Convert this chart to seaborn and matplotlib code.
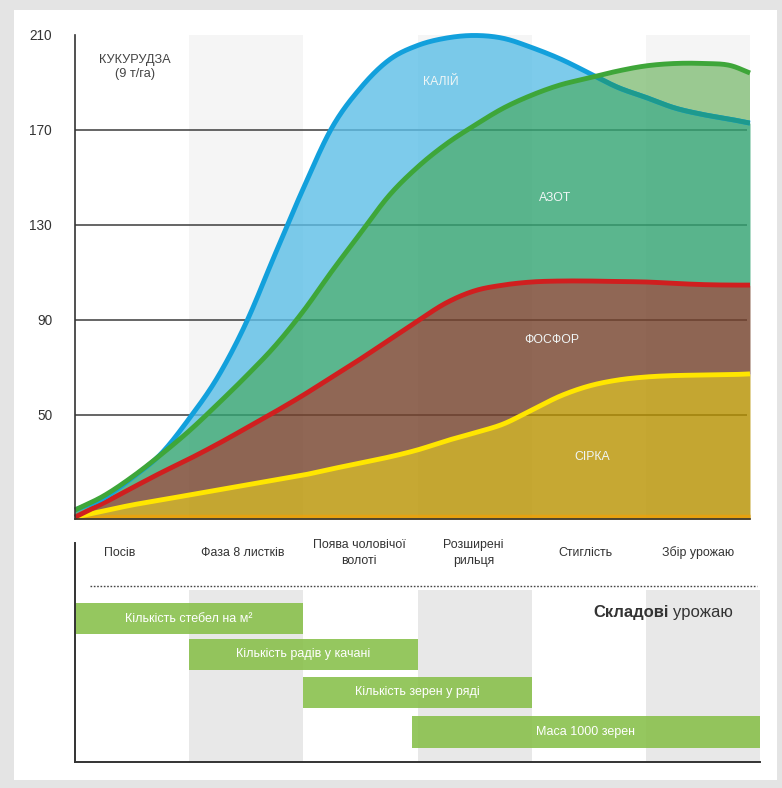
import numpy as np
import pandas as pd
import matplotlib
matplotlib.use("Agg")
import matplotlib.pyplot as plt
from matplotlib.patches import Rectangle
import seaborn as sns

# ---- data -------------------------------------------------------------
# growth-stage position (one unit = one stage column)
stage_pos = [0.0, 0.25, 0.5, 0.75, 1.0, 1.25, 1.5, 1.75, 2.0, 2.25, 2.5, 2.75,
             3.0, 3.25, 3.5, 3.75, 4.0, 4.25, 4.5, 4.75, 5.0, 5.25, 5.5, 5.75, 5.91]
# nutrient uptake, kg/ha
potassium = [10, 15, 23.5, 33.5, 48.5, 66, 89, 117.5, 145.5, 171, 187.7, 199.5,
             205.6, 208.7, 209.8, 208.6, 204.7, 199.9, 194, 188, 183.7, 179.3, 176.5, 174.4, 172.9]
nitrogen = [10, 15.9, 23.9, 33.2, 43.3, 54.6, 66.4, 79, 93.8, 110.6, 126.6, 142.4,
            154.4, 164.1, 172, 179.2, 184.7, 189, 191.9, 194.8, 197, 198, 198, 197, 194]
phosphorus = [7, 12.9, 19.3, 25.6, 31.5, 37.8, 44.5, 51.3, 58.4, 66, 73.6, 81.6,
              89.6, 97.2, 102.3, 104.7, 106, 106.4, 106.4, 106.2, 106, 105.4, 104.9, 104.7, 104.7]
sulfur = [7, 9.6, 12.1, 14.2, 16.3, 18.4, 20.5, 22.6, 24.7, 27.3, 29.8, 32.3,
          35.3, 39.1, 42.5, 46.2, 52.1, 58, 62.2, 64.7, 66, 66.6, 66.8, 67, 67.3]
trace = [6.6, 8.0, 8.2, 8.2, 8.2, 8.2, 8.2, 8.2, 8.2, 8.2, 8.2, 8.2,
         8.2, 8.2, 8.2, 8.2, 8.2, 8.2, 8.2, 8.2, 8.2, 8.2, 8.2, 8.2, 8.2]

y_ticks = [50, 90, 130, 170, 210]
grid_levels = [50, 90, 130, 170]

series_names = ["КАЛІЙ", "АЗОТ", "ФОСФОР", "СІРКА"]
series_label_xy = [(3.2, 190), (4.2, 141.5), (4.17, 81.5), (4.53, 32.5)]

stages = ["Посів", "Фаза 8 листків", "Поява чоловічої\nволоті",
          "Розширені\nрильця", "Стиглість", "Збір урожаю"]
stage_label_pos = [0.39, 1.47, 2.49, 3.49, 4.47, 5.46]

components = ["Кількість стебел на м²", "Кількість радів у качані",
              "Кількість зерен у ряді", "Маса 1000 зерен"]
comp_start = [0.0, 1.0, 2.0, 2.95]
comp_end = [2.0, 3.0, 4.0, 6.0]


def smooth_path(xs, ys, n=1200):
    """Cubic Hermite path through the points (for drawing smooth curves)."""
    xs = np.asarray(xs, float)
    ys = np.asarray(ys, float)
    m = np.gradient(ys, xs)
    xd = np.linspace(xs[0], xs[-1], n)
    i = np.clip(np.searchsorted(xs, xd, side="right") - 1, 0, len(xs) - 2)
    h = xs[i + 1] - xs[i]
    t = (xd - xs[i]) / h
    h00 = 2 * t**3 - 3 * t**2 + 1
    h10 = t**3 - 2 * t**2 + t
    h01 = -2 * t**3 + 3 * t**2
    h11 = t**3 - t**2
    yd = h00 * ys[i] + h10 * h * m[i] + h01 * ys[i + 1] + h11 * h * m[i + 1]
    return xd, yd


# ---- style ------------------------------------------------------------
sns.set_theme(style="white")
plt.rcParams["font.family"] = ["Liberation Sans", "DejaVu Sans"]

c_blue_line, c_green_line = "#12a0dc", "#3ea639"
c_red_line, c_yellow_line = "#d01f1f", "#ffe600"
fill_alpha = 0.8

fig = plt.figure(figsize=(7.82, 7.88), dpi=100, facecolor="#e4e4e4")
fig.patches.append(Rectangle((14 / 782, 1 - 780 / 788), 763 / 782, 770 / 788,
                             transform=fig.transFigure, facecolor="white",
                             edgecolor="none", zorder=-10))

# ---- upper panel: nutrient uptake curves -----------------------------
ax = fig.add_axes([75 / 782, 1 - 519 / 788, 675 / 782, 484 / 788])
ax.set_facecolor("none")
y_bottom = 6.2
ax.set_xlim(0, 5.91)
ax.set_ylim(y_bottom, 210)

xd, K = smooth_path(stage_pos, potassium)
_, N = smooth_path(stage_pos, nitrogen)
_, P = smooth_path(stage_pos, phosphorus)
_, S = smooth_path(stage_pos, sulfur)
_, T = smooth_path(stage_pos, trace)

for i in (1, 3, 5):
    ax.axvspan(i, i + 1, color="#f5f5f5", lw=0, zorder=0)
for g in grid_levels:
    ax.hlines(g, 0, 5.88, color="#3c3c3c", lw=1.1, zorder=1)

lo = np.minimum(K, N)
fk = dict(lw=0, alpha=fill_alpha, zorder=2)
ax.fill_between(xd, y_bottom, S, color="#b89200", **fk)
ax.fill_between(xd, S, P, color="#75412b", **fk)
ax.fill_between(xd, P, lo, color="#32a472", **fk)
ax.fill_between(xd, N, K, where=K >= N, interpolate=True, color="#5cbee7", **fk)
ax.fill_between(xd, K, N, where=N >= K, interpolate=True, color="#84bf78", **fk)
ax.fill_between(xd, y_bottom, T, color="#eca10b", lw=0, alpha=0.85, zorder=2.5)

lw = 3.5
common = dict(ax=ax, sort=False, lw=lw, solid_capstyle="butt", clip_on=False)
sns.lineplot(x=xd, y=S, color=c_yellow_line, zorder=3, **common)
sns.lineplot(x=xd, y=P, color=c_red_line, zorder=3.1, **common)
sns.lineplot(x=xd, y=K, color=c_blue_line, zorder=3.2, **common)
# potassium line where it runs beneath the nitrogen area looks teal
K_under = np.where((N >= K) & (xd > 3), K, np.nan)
ax.plot(xd, K_under, color="#1d9a8e", lw=lw, solid_capstyle="butt", zorder=3.3)
sns.lineplot(x=xd, y=N, color=c_green_line, zorder=3.4, **common)

for name, (lx, ly) in zip(series_names, series_label_xy):
    ax.text(lx, ly, name, color="#f0f6f6", fontsize=8.8, ha="center",
            va="center", zorder=5)

ax.text(0.525, 196.5, "КУКУРУДЗА\n(9 т/га)", color="#444444", fontsize=9.2,
        ha="center", va="center", linespacing=1.2, multialignment="center")

ax.set_yticks(y_ticks)
ax.set_yticklabels([str(v) for v in y_ticks])
ax.set_xticks([])
ax.tick_params(axis="y", length=0, pad=16.5, labelsize=9.8, labelcolor="#333333")
sns.despine(ax=ax, top=True, right=True)
for side in ("left", "bottom"):
    ax.spines[side].set_color("#333333")
    ax.spines[side].set_linewidth(1.2)
    ax.spines[side].set_zorder(6)

# ---- lower panel: yield components -----------------------------------
bx = fig.add_axes([75 / 782, 1 - 762 / 788, 685 / 782, 219 / 788])
bx.set_facecolor("none")
bx.set_xlim(0, 6.0)
bx.set_ylim(0, 219)
for i in (1, 3, 5):
    bx.add_patch(Rectangle((i, 0), 1, 172, facecolor="#e8e8e8", lw=0, zorder=0))

for lbl, pos in zip(stages, stage_label_pos):
    bx.text(pos, 209, lbl, ha="center", va="center", fontsize=8.9,
            color="#333333", linespacing=1.5, multialignment="center")

bx.hlines(176, 0.13, 5.97, color="#444444", lw=1.0, linestyles=(0, (1.2, 1.2)))

bar_y = [143.5, 107.5, 69.5, 30]
bar_h = [31, 31, 31, 32]
for lbl, s, e, yc, h in zip(components, comp_start, comp_end, bar_y, bar_h):
    bx.barh(yc, e - s, left=s, height=h, color="#8ac14d", alpha=0.9,
            lw=0, zorder=2)
    bx.text((s + e) / 2, yc, lbl, ha="center", va="center", color="white",
            fontsize=9, zorder=3)

bx.text(5.2, 149, "Складові", ha="right", va="center", fontsize=12,
        fontweight="bold", color="#333333")
bx.text(5.235, 149, "урожаю", ha="left", va="center", fontsize=12,
        color="#333333")

bx.set_xticks([])
bx.set_yticks([])
sns.despine(ax=bx, top=True, right=True)
for side in ("left", "bottom"):
    bx.spines[side].set_color("#333333")
    bx.spines[side].set_linewidth(1.4)

fig.savefig("out.png", dpi=100, facecolor=fig.get_facecolor())
